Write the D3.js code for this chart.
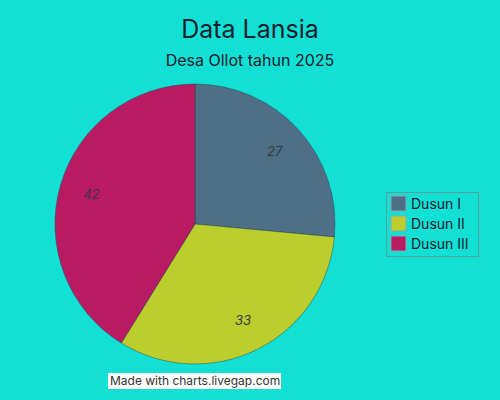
<!DOCTYPE html>
<html>
<head>
<meta charset="utf-8">
<script src="https://cdn.jsdelivr.net/npm/d3@7"></script>
<style>
  body { margin: 0; background: #12e0d4; }
  svg { display: block; font-family: Inter, "Noto Sans", sans-serif; }
</style>
</head>
<body>
<div id="chart"></div>
<script>
// data
var categories = ["Dusun I", "Dusun II", "Dusun III"];
var values = [27, 33, 42];
var colors = ["#4f6f86", "#bccd2e", "#b91a63"];

var width = 500, height = 400;
var cx = 195, cy = 224, radius = 140;

var svg = d3.select("div#chart")
  .append("svg")
    .attr("width", width)
    .attr("height", height);

svg.append("rect")
  .attr("width", width)
  .attr("height", height)
  .attr("fill", "#12e0d4");

// titles
svg.append("text")
  .attr("x", 250).attr("y", 38)
  .attr("text-anchor", "middle")
  .style("font-size", "25px")
  .style("fill", "#15202b")
  .text("Data Lansia");

svg.append("text")
  .attr("x", 250).attr("y", 66)
  .attr("text-anchor", "middle")
  .style("font-size", "16px")
  .style("fill", "#15202b")
  .text("Desa Ollot tahun 2025");

var data = categories.map(function(c, i) { return {name: c, value: values[i], color: colors[i]}; });

var pie = d3.pie().sort(null).value(function(d) { return d.value; });
var arc = d3.arc().innerRadius(0).outerRadius(radius);
var labelArc = d3.arc().innerRadius(radius * 0.77).outerRadius(radius * 0.77);

var g = svg.append("g")
  .attr("transform", "translate(" + cx + "," + cy + ")");

g.selectAll(".slice")
  .data(pie(data))
  .enter()
  .append("path")
    .attr("class", "slice")
    .attr("d", arc)
    .style("fill", function(d) { return d.data.color; })
    .style("stroke", "rgba(40,60,70,0.45)")
    .style("stroke-width", 1);

g.selectAll(".label")
  .data(pie(data))
  .enter()
  .append("text")
    .attr("class", "label")
    .attr("transform", function(d) { return "translate(" + labelArc.centroid(d) + ")"; })
    .attr("text-anchor", "middle")
    .attr("dy", "0.35em")
    .style("font-size", "13px")
    .style("font-style", "italic")
    .style("fill", "#333a40")
    .text(function(d) { return d.data.value; });

// legend
var legend = svg.append("g");
legend.append("rect")
  .attr("x", 386.5).attr("y", 192.5)
  .attr("width", 92).attr("height", 64)
  .attr("fill", "none")
  .attr("stroke", "#5c9e9c")
  .attr("stroke-width", 1);

var items = legend.selectAll(".item")
  .data(data)
  .enter()
  .append("g")
    .attr("class", "item")
    .attr("transform", function(d, i) { return "translate(391," + (196 + i * 20) + ")"; });

items.append("rect")
  .attr("width", 15).attr("height", 15)
  .attr("fill", function(d) { return d.color; })
  .attr("stroke", "#8aa8b0")
  .attr("stroke-width", 1);

items.append("text")
  .attr("x", 20).attr("y", 12.5)
  .style("font-size", "14px")
  .style("fill", "#15202b")
  .text(function(d) { return d.name; });

// watermark
svg.append("rect")
  .attr("x", 108).attr("y", 373)
  .attr("width", 173).attr("height", 16)
  .attr("fill", "#ffffff");

svg.append("text")
  .attr("x", 110).attr("y", 385)
  .style("font-size", "12px")
  .style("fill", "#333")
  .text("Made with charts.livegap.com");
</script>
</body>
</html>
